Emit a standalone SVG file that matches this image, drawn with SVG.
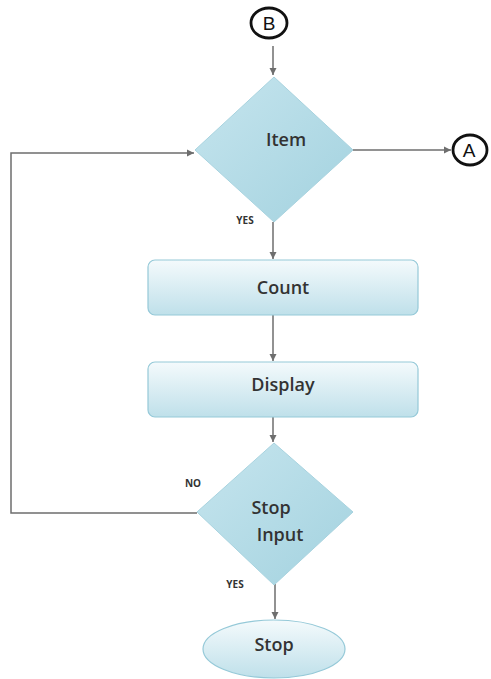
<svg xmlns="http://www.w3.org/2000/svg" width="491" height="679" viewBox="0 0 491 679">
<style>
.lbl{font-family:"Open Sans","Liberation Sans",sans-serif;fill:#333;text-anchor:middle}
.big{font-size:18px;font-weight:600}
.sm{font-size:10px;font-weight:bold}
.conn{stroke:#6e6e6e;stroke-width:1.5;fill:none}
.term{fill:#fff;stroke:#111;stroke-width:2.8}
.term-t{font-family:"Liberation Sans",sans-serif;font-size:19px;fill:#111;text-anchor:middle}
</style>
<defs>
<linearGradient id="gd" x1="0" y1="0" x2="1" y2="1">
<stop offset="0" stop-color="#c6e5ee"/>
<stop offset="1" stop-color="#a3d2df"/>
</linearGradient>
<linearGradient id="gb" x1="0" y1="0" x2="0" y2="1">
<stop offset="0" stop-color="#f4fafc"/>
<stop offset="1" stop-color="#bfe0ea"/>
</linearGradient>
<marker id="ar" markerWidth="8" markerHeight="8" refX="7" refY="4" orient="auto" markerUnits="userSpaceOnUse">
<path d="M0,0.5 L7,4 L0,7.5 Z" fill="#6e6e6e"/>
</marker>
</defs>
<rect width="491" height="679" fill="#fff"/>
<g id="connectors">
<line class="conn" x1="273" y1="46" x2="273" y2="75" marker-end="url(#ar)"/>
<line class="conn" x1="353" y1="150" x2="451" y2="150" marker-end="url(#ar)"/>
<line class="conn" x1="273" y1="222" x2="273" y2="259" marker-end="url(#ar)"/>
<line class="conn" x1="273" y1="315" x2="273" y2="361" marker-end="url(#ar)"/>
<line class="conn" x1="273" y1="417" x2="273" y2="442" marker-end="url(#ar)"/>
<polyline class="conn" points="197,513 11,513 11,153 194,153" marker-end="url(#ar)"/>
<line class="conn" x1="275" y1="584" x2="275" y2="619" marker-end="url(#ar)"/>
<text class="lbl sm" x="245" y="224">YES</text>
<text class="lbl sm" x="193" y="487">NO</text>
<text class="lbl sm" x="235" y="588">YES</text>
</g>
<g id="nodeB">
<ellipse class="term" cx="269" cy="23" rx="18" ry="15"/>
<text class="term-t" x="269" y="30">B</text>
</g>
<g id="nodeA">
<ellipse class="term" cx="470" cy="150" rx="17" ry="15"/>
<text class="term-t" x="469" y="157">A</text>
</g>
<g id="item">
<polygon points="274,77 353,150 274,222 195,150" fill="url(#gd)" stroke="#a8d3df" stroke-width="1"/>
<text class="lbl big" x="286" y="146">Item</text>
</g>
<g id="count">
<rect x="148" y="260" width="270" height="55" rx="7" fill="url(#gb)" stroke="#95c9d8" stroke-width="1.2"/>
<text class="lbl big" x="283" y="294">Count</text>
</g>
<g id="display">
<rect x="148" y="362" width="270" height="55" rx="7" fill="url(#gb)" stroke="#95c9d8" stroke-width="1.2"/>
<text class="lbl big" x="283" y="391">Display</text>
</g>
<g id="stopinput">
<polygon points="274,443 353,512 274,585 197,512" fill="url(#gd)" stroke="#a8d3df" stroke-width="1"/>
<text class="lbl big" x="271" y="514">Stop</text>
<text class="lbl big" x="280" y="541">Input</text>
</g>
<g id="stop">
<ellipse cx="274" cy="649" rx="71" ry="29" fill="url(#gb)" stroke="#95c9d8" stroke-width="1.2"/>
<text class="lbl big" x="274" y="651">Stop</text>
</g>
</svg>
